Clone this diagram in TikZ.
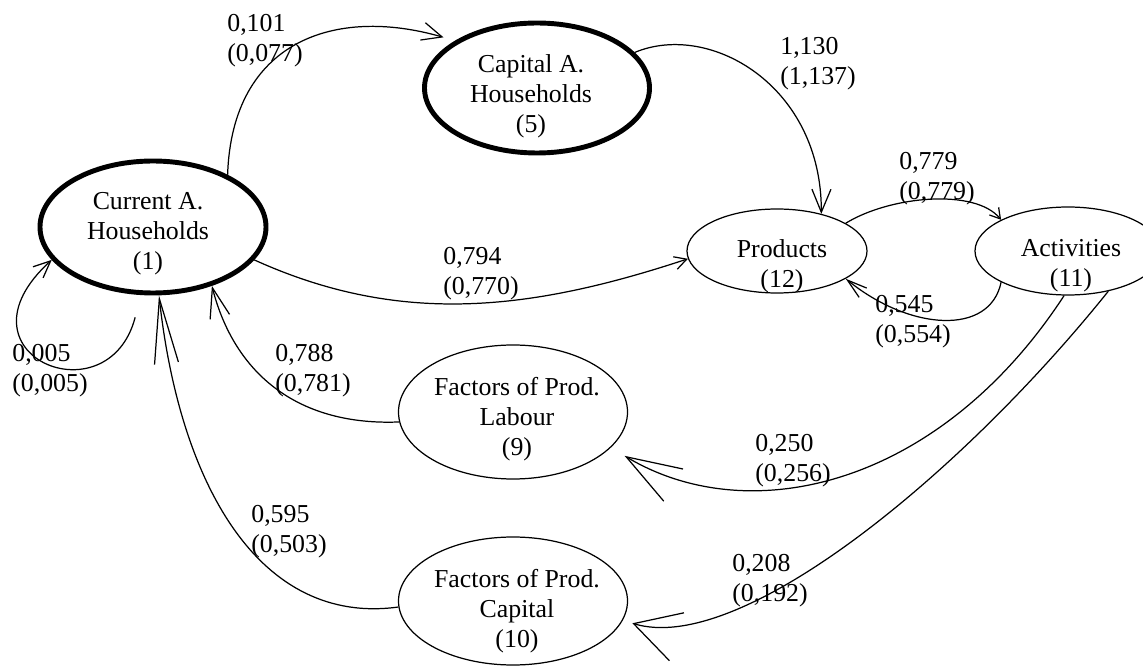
\documentclass[tikz,border=0pt]{standalone}
\usepackage{fontspec}
\setmainfont{Liberation Serif}
\usetikzlibrary{shapes.geometric, arrows.meta}

\tikzset{
  sector/.style={ellipse, draw, line width=0.7pt, inner sep=0pt},
  account/.style={sector, line width=2.8pt},
  txt/.style={align=center, inner sep=0pt},
  coef/.style={align=left, anchor=west, inner sep=0pt},
  flow/.style 2 args={line width=0.7pt, -{Straight Barb[length=#1, width=#2]}},
}

\begin{document}
\begin{tikzpicture}[x=0.2mm, y=0.2mm, font=\fontsize{14.7}{17}\selectfont]
  \useasboundingbox (0,0) rectangle (1143,666);

  % accounts
  \node[account, minimum width=45.2mm, minimum height=26.4mm] (cur) at (153,439) {};
  \node[account, minimum width=45mm, minimum height=26mm] (cap) at (537,578) {};
  \node[sector, minimum width=36mm, minimum height=16.8mm] (prod) at (777,415) {};
  \node[sector, minimum width=37.2mm, minimum height=17.6mm] (act) at (1068,415) {};
  \node[sector, minimum width=45.8mm, minimum height=26.8mm] (lab) at (513,254) {};
  \node[sector, minimum width=45.8mm, minimum height=25.6mm] (fcap) at (513,65) {};

  \node[txt] (curtxt) at (148,432) {Current A.\\Households\\(1)};
  \node[txt] (captxt) at (531,570) {Capital A.\\Households\\(5)};
  \node[txt] (prodtxt) at (782,400) {Products\\(12)};
  \node[txt] (acttxt) at (1071,400) {Activities\\(11)};
  \node[txt] (labtxt) at (517,247) {Factors of Prod.\\Labour\\(9)};
  \node[txt] (fcaptxt) at (517,55) {Factors of Prod.\\Capital\\(10)};

  % flows
  \draw[flow={4mm}{3.6mm}, shorten >=2.4mm] (cur.35) .. controls (232,625) and (335,660) .. (cap.150);
  \draw[flow={4.6mm}{3.8mm}] (cap.20) .. controls (710,645) and (822,580) .. (prod.40);
  \draw[flow={2.4mm}{2.6mm}] (cur.-18) .. controls (400,340) and (530,355) .. (prod.185);
  \draw[flow={2mm}{2.4mm}] (prod.22) .. controls (890,470) and (975,478) .. (act.155);
  \draw[flow={4mm}{2.4mm}] (act.205) .. controls (990,330) and (910,335) .. (prod.-22);
  \draw[flow={3.4mm}{3mm}, shorten <=4.6mm] (cur.-100) .. controls (108,245) and (-52,312) .. (cur.198);
  \draw[flow={6mm}{4mm}] (lab.185) .. controls (300,240) and (235,290) .. (cur.-45);
  \draw[flow={13mm}{4.8mm}] (fcap.183) .. controls (260,40) and (180,180) .. (cur.-85);
  \draw[flow={11mm}{7.5mm}, shorten >=3.2mm] (act.265) .. controls (940,180) and (750,135) .. (lab.-20);
  \draw[flow={9mm}{10mm}, shorten >=2mm] (act.-45) .. controls (960,190) and (740,10) .. (fcap.-10);

  % coefficients
  \node[coef] (kcurcap) at (227,625) {0,101\\(0,077)};
  \node[coef] (kcapprod) at (780,602) {1,130\\(1,137)};
  \node[coef] (kcurprod) at (443,392) {0,794\\(0,770)};
  \node[coef] (kprodact) at (899,487) {0,779\\(0,779)};
  \node[coef] (kactprod) at (875,344) {0,545\\(0,554)};
  \node[coef] (kcurcur) at (12,295) {0,005\\(0,005)};
  \node[coef] (klabcur) at (275,295) {0,788\\(0,781)};
  \node[coef] (kfcapcur) at (251,134) {0,595\\(0,503)};
  \node[coef] (kactlab) at (755,205) {0,250\\(0,256)};
  \node[coef] (kactfcap) at (732,85) {0,208\\(0,192)};
\end{tikzpicture}
\end{document}
